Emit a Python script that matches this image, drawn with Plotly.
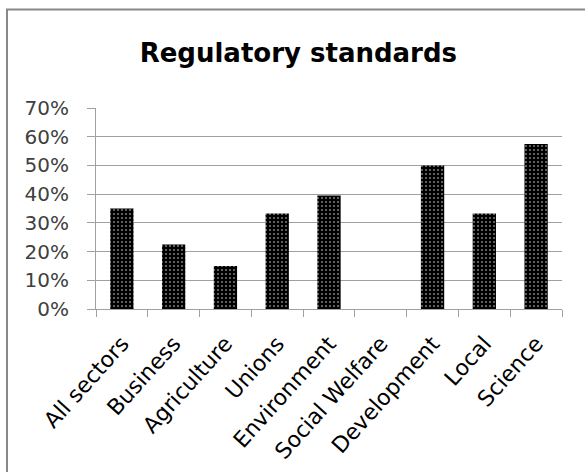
import plotly.graph_objects as go

categories = ["All sectors", "Business", "Agriculture", "Unions", "Environment",
              "Social Welfare", "Development", "Local", "Science"]
values = [0.35, 0.225, 0.15, 0.333, 0.395, 0.0, 0.50, 0.333, 0.575]

fig = go.Figure(go.Bar(
    x=categories, y=values, width=0.45,
    marker=dict(color="black", line=dict(color="black", width=0),
                pattern=dict(shape=".", fgcolor="white", bgcolor="black",
                             size=4, solidity=0.2)),
))

fig.update_layout(
    width=585, height=472,
    margin=dict(l=96, r=23, t=108, b=163),
    paper_bgcolor="white", plot_bgcolor="white",
    showlegend=False,
    font=dict(family="DejaVu Sans", color="#404040"),
    title=dict(text="<b>Regulatory standards</b>", x=0.51, xanchor="center",
               y=0.888, yanchor="middle",
               font=dict(size=26, color="black", family="DejaVu Sans")),
)
fig.update_yaxes(range=[0, 0.7], dtick=0.1, tickformat=".0%",
                 showgrid=True, gridcolor="#a0a0a0", gridwidth=1,
                 showline=True, linecolor="#a0a0a0", linewidth=1,
                 ticks="outside", ticklen=8, tickcolor="#a0a0a0",
                 ticklabelstandoff=14, automargin=False,
                 tickfont=dict(size=20, color="#404040"), zeroline=False)
fig.update_xaxes(tickangle=-48, tickson="boundaries", ticks="outside",
                 ticklen=7, tickcolor="#a0a0a0",
                 ticklabelstandoff=12, automargin=False,
                 showline=True, linecolor="#a0a0a0", linewidth=1,
                 tickfont=dict(size=22, color="black"))

# outer chart border (top and left visible only)
fig.add_shape(type="rect", xref="paper", yref="paper",
              x0=-0.191, x1=1.3, y0=-1.0, y1=1.49,
              line=dict(color="#888888", width=2), layer="below")

fig.write_html("out.html", config={"displayModeBar": False},
               post_script="document.body.style.margin='0px';")
